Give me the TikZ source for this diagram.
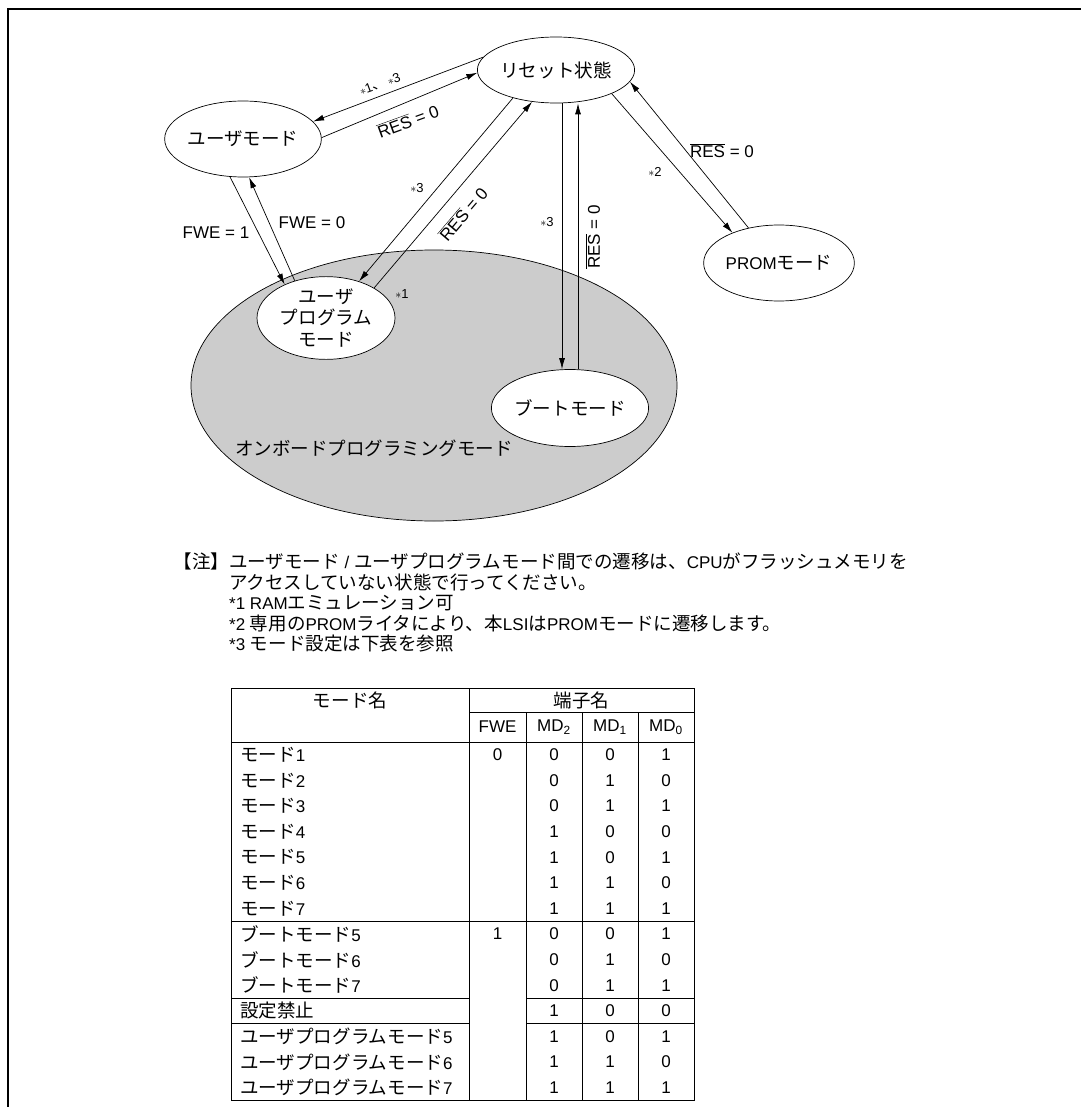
\documentclass[tikz,border=0pt]{standalone}
\usepackage{fontspec}
\setmainfont{Liberation Sans}
\newfontfamily\jpfont[Scale=1.09]{Noto Sans CJK JP}
\newcommand{\J}[1]{{\jpfont #1}}
\newcommand{\resbar}{$\overline{\mbox{RES}}$}
\usetikzlibrary{shapes.geometric,arrows.meta}

\begin{document}
\begin{tikzpicture}[x=1pt,y=-1pt,
    font=\fontsize{17}{21.5}\selectfont,
    state/.style={ellipse, draw, fill=white, line width=0.7pt, minimum width=140pt, minimum height=76pt, inner sep=0pt, align=center},
    tr/.style={-{Latex[length=11pt,width=6pt]}, line width=0.7pt},
    lbl/.style={inner sep=0pt},
    star/.style={font=\fontsize{13}{15}\selectfont, inner sep=0pt},
    rule/.style={line width=0.7pt}]
    \useasboundingbox (0,0) rectangle (1081,1107);
    % Frame
    \draw[line width=2pt] (8,1107) -- (8,9) -- (1081,9);
    % On-board programming area
    \node[ellipse, draw, fill=black!20, line width=0.7pt, minimum width=486pt, minimum height=271pt] (onboard) at (434,385.5) {};
    \node[lbl] (onboardlbl) at (374,448) {\J{オンボードプログラミングモード}};
    % States
    \node[state, minimum width=138pt, minimum height=66pt] (reset) at (556,70) {\J{リセット状態}};
    \node[state] (user) at (243,139) {\J{ユーザモード}};
    \node[state, minimum width=138pt, minimum height=77pt] (uprog) at (326,318) {\J{ユーザ}\\\J{プログラム}\\\J{モード}};
    \node[state, minimum width=138pt, minimum height=77pt] (boot) at (570,408) {\J{ブートモード}};
    \node[state] (prom) at (779,263) {PROM\J{モード}};
    % Transitions
    \draw[tr] (reset.170) -- (user.14);
    \draw[tr] (user.1) -- (reset.182);
    \draw[tr] (user.251) -- (uprog.141.5);
    \draw[tr] (uprog.130.6) -- (user.279);
    \draw[tr] (reset.213) -- (uprog.48.4);
    \draw[tr] (uprog.32.5) -- (reset.233);
    \draw[tr] ([xshift=-8pt]boot.north |- reset.south) -- ([xshift=-8pt]boot.north);
    \draw[tr] ([xshift=8pt]boot.north) -- ([xshift=8pt]boot.north |- reset.south);
    \draw[tr] (reset.337) -- (prom.147);
    \draw[tr] (prom.131) -- (reset.351);
    % Labels
    \node[star, rotate=20] (s13) at (380,84) {$\ast$1\J{、}\,$\ast$3};
    \node[lbl, rotate=20] (res1) at (408,121) {\resbar{} = 0};
    \node[lbl] (fwe1) at (216,233) {FWE = 1};
    \node[lbl] (fwe0) at (312,223) {FWE = 0};
    \node[star] (s3a) at (417,188) {$\ast$3};
    \node[lbl, rotate=49.5] (res2) at (463,214) {\resbar{} = 0};
    \node[star] (s1) at (402,294) {$\ast$1};
    \node[star] (s3b) at (547,222) {$\ast$3};
    \node[lbl, rotate=90] (res3) at (593,237) {\resbar{} = 0};
    \node[star] (s2) at (655,172) {$\ast$2};
    \node[lbl] (res4) at (722,151) {\resbar{} = 0};
    % Notes
    \node[lbl, anchor=north west, align=left, font=\fontsize{17}{20.5}\selectfont] (notes) at (229,553)
        {\llap{\J{【注】}}\J{ユーザモード} / \J{ユーザプログラムモード間での遷移は、}CPU\J{がフラッシュメモリを}\\
         \J{アクセスしていない状態で行ってください。}\\
         *1 RAM\J{エミュレーション可}\\
         *2 \J{専用の}PROM\J{ライタにより、本}LSI\J{は}PROM\J{モードに遷移します。}\\
         *3 \J{モード設定は下表を参照}};
    % Table rules
    \draw[rule] (231,688) rectangle (694,1100.4);
    \draw[rule] (469,688) -- (469,1100.4);
    \foreach \cx in {526,582,638}
        \draw[rule] (\cx,712) -- (\cx,1100.4);
    \draw[rule] (469,712) -- (694,712);
    \draw[rule] (231,742) -- (694,742);
    \draw[rule] (231,921.2) -- (694,921.2);
    \foreach \ry in {998,1023.6} {
        \draw[rule] (231,\ry) -- (469,\ry);
        \draw[rule] (526,\ry) -- (694,\ry);
    }
    % Table header
    \node[lbl] (hname) at (350,700) {\J{モード名}};
    \node[lbl] (hpin) at (581.5,700) {\J{端子名}};
    \node[lbl] (hfwe) at (497.5,727) {FWE};
    \node[lbl] (hmd2) at (554,727) {MD\textsubscript{2}};
    \node[lbl] (hmd1) at (610,727) {MD\textsubscript{1}};
    \node[lbl] (hmd0) at (666,727) {MD\textsubscript{0}};
    % Table rows
    \foreach \i/\name/\fwe/\mdb/\mda/\mdc in {
        1/{\J{モード}1}/0/0/0/1,
        2/{\J{モード}2}/{}/0/1/0,
        3/{\J{モード}3}/{}/0/1/1,
        4/{\J{モード}4}/{}/1/0/0,
        5/{\J{モード}5}/{}/1/0/1,
        6/{\J{モード}6}/{}/1/1/0,
        7/{\J{モード}7}/{}/1/1/1,
        8/{\J{ブートモード}5}/1/0/0/1,
        9/{\J{ブートモード}6}/{}/0/1/0,
        10/{\J{ブートモード}7}/{}/0/1/1,
        11/{\J{設定禁止}}/{}/1/0/0,
        12/{\J{ユーザプログラムモード}5}/{}/1/0/1,
        13/{\J{ユーザプログラムモード}6}/{}/1/1/0,
        14/{\J{ユーザプログラムモード}7}/{}/1/1/1} {
        \pgfmathsetmacro\yc{742+25.6*(\i-0.5)}
        \node[lbl, anchor=west] (name\i) at (240,\yc) {\name};
        \node[lbl] (fwe\i) at (497.5,\yc) {\fwe};
        \node[lbl] (mdb\i) at (554,\yc) {\mdb};
        \node[lbl] (mda\i) at (610,\yc) {\mda};
        \node[lbl] (mdc\i) at (666,\yc) {\mdc};
    }
\end{tikzpicture}
\end{document}
